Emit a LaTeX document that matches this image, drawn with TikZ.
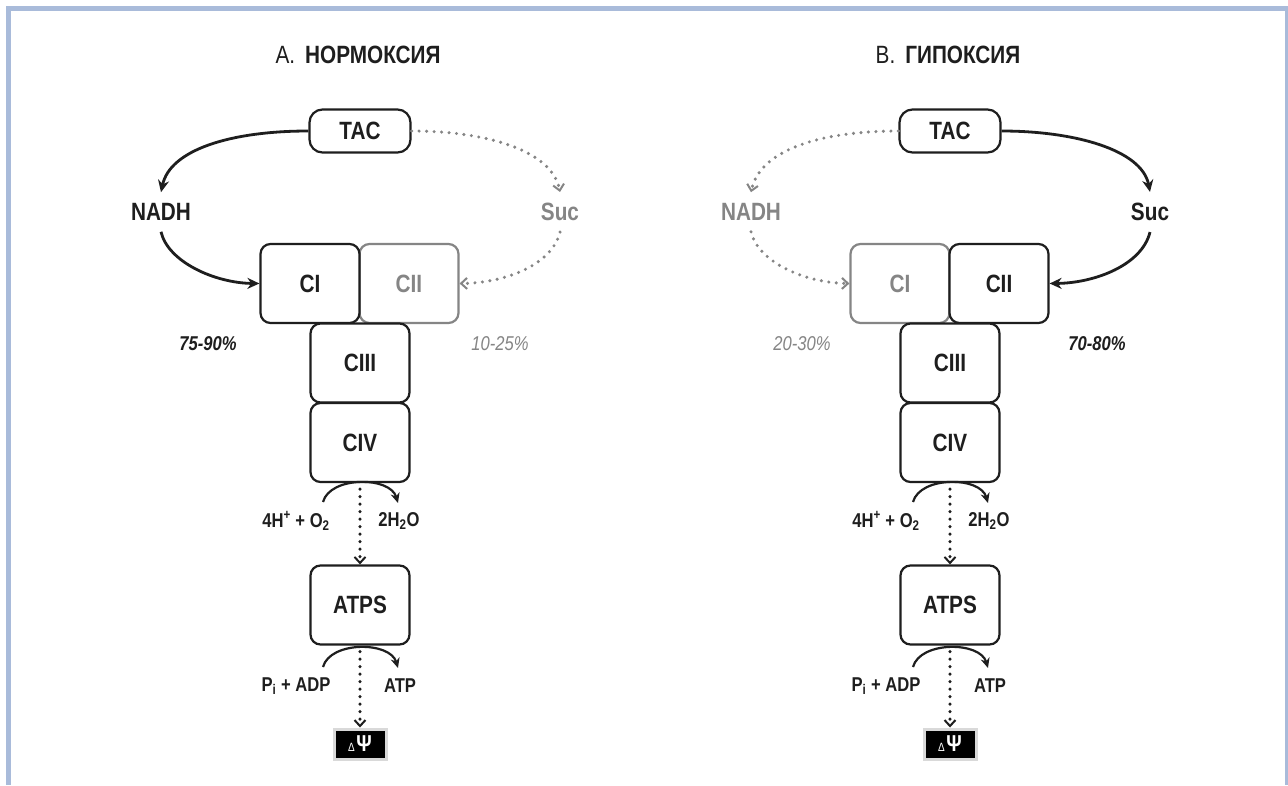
\documentclass[tikz,border=0pt]{standalone}
\usepackage{fontspec}
\setmainfont{Liberation Sans}[FakeStretch=0.83]
\usetikzlibrary{arrows.meta}
\definecolor{frame}{HTML}{A9BBDA}
\definecolor{dk}{HTML}{1E1E1E}
\definecolor{gr}{HTML}{858585}
\tikzset{
  cbox/.style={draw=dk, text=dk, rounded corners=10pt, line width=2.2pt, minimum width=99pt, minimum height=79pt, fill=white, font=\bfseries\fontsize{25}{25}\selectfont},
  grbox/.style={cbox, draw=gr, text=gr},
  tacbox/.style={cbox, minimum width=101pt, minimum height=43pt, rounded corners=13pt},
  lbl/.style={text=dk, inner xsep=2pt, inner ysep=11pt, font=\bfseries\fontsize{25}{25}\selectfont},
  grlbl/.style={lbl, text=gr},
  pct/.style={text=dk, font=\bfseries\itshape\fontsize{20}{20}\selectfont},
  grpct/.style={text=gr, font=\itshape\fontsize{20}{20}\selectfont},
  sm/.style={text=dk, font=\bfseries\fontsize{20}{20}\selectfont},
  ttl/.style={text=dk, font=\fontsize{25}{25}\selectfont},
  solidarr/.style={draw=dk, line width=2.8pt, -{Stealth[length=12pt,width=11pt]}},
  dotarr/.style={draw=gr, line width=3.4pt, line cap=round, dash pattern=on 0pt off 7.5pt, -{Straight Barb[length=6pt,width=11pt,line width=2pt]}},
  vdot/.style={draw=dk, line width=3.4pt, line cap=round, dash pattern=on 0pt off 7.5pt, -{Straight Barb[length=6pt,width=11pt,line width=2pt]}},
  arcarr/.style={draw=dk, line width=2.2pt, -{Stealth[length=10pt,width=9pt]}},
  psibox/.style={fill=black, draw=black!15, line width=3pt, minimum width=52pt, minimum height=30pt, text=white, inner sep=0pt},
}
\begin{document}
\begin{tikzpicture}[x=1pt,y=-1pt]
\useasboundingbox (0,0) rectangle (1288,785);
\fill[white] (0,0) rectangle (1288,785);
% frame
\fill[frame] (6,6) rectangle (1288,11);
\fill[frame] (6,6) rectangle (11,785);
\fill[frame] (1285,6) rectangle (1288,785);

% ===== Panel A =====
\node[ttl] (titleA) at (358,55) {А.\hspace{10pt}\textbf{НОРМОКСИЯ}};
\node[tacbox] (tacA) at (360,131) {TAC};
\node[lbl] (nadhA) at (161,212) {NADH};
\node[grlbl] (sucA) at (560,212) {Suc};
\node[grbox] (cIIA) at (409,283.5) {CII};
\node[cbox] (cIA) at (310,283.5) {CI};
\node[cbox] (cIIIA) at (360,363) {CIII};
\node[cbox] (cIVA) at (360,442.5) {CIV};
\node[cbox] (atpsA) at (360,605) {ATPS};
\node[pct] (pA1) at (208,344) {75-90\%};
\node[grpct] (pA2) at (500,344) {10-25\%};
\draw[solidarr] (tacA.west) .. controls (230,131) and (170,150) .. (nadhA.north);
\draw[solidarr] (nadhA.south) .. controls (168,262) and (215,283) .. (cIA.west);
\draw[dotarr] (tacA.east) .. controls (485,131) and (552,150) .. (sucA.north);
\draw[dotarr] (sucA.south) .. controls (552,265) and (505,283) .. (cIIA.east);
\coordinate (oA1) at (323,502);
\coordinate (oA2) at (398,503);
\draw[arcarr] (oA1) .. controls (330,476) and (390,476) .. (oA2);
\node[sm] (rA1) at (296,521) {4H\textsuperscript{+} + O\textsubscript{2}};
\node[sm] (rA2) at (399,521) {2H\textsubscript{2}O};
\draw[vdot] ([yshift=-6pt]cIVA.south) -- (atpsA.north);
\coordinate (qA1) at (323,667);
\coordinate (qA2) at (398,668);
\draw[arcarr] (qA1) .. controls (330,641) and (390,641) .. (qA2);
\node[sm] (sA1) at (296,686) {P\textsubscript{i} + ADP};
\node[sm] (sA2) at (400,686) {ATP};
\node[psibox] (psiA) at (360,744) {{\fontsize{12}{12}\selectfont Δ}\,{\bfseries\fontsize{23}{23}\selectfont Ψ}};
\draw[vdot] ([yshift=-6pt]atpsA.south) -- (psiA.north);

% ===== Panel B =====
\node[ttl] (titleB) at (948,55) {В.\hspace{10pt}\textbf{ГИПОКСИЯ}};
\node[tacbox] (tacB) at (950,131) {TAC};
\node[grlbl] (nadhB) at (751,212) {NADH};
\node[lbl] (sucB) at (1150,212) {Suc};
\node[grbox] (cIB) at (900,283.5) {CI};
\node[cbox] (cIIB) at (999,283.5) {CII};
\node[cbox] (cIIIB) at (950,363) {CIII};
\node[cbox] (cIVB) at (950,442.5) {CIV};
\node[cbox] (atpsB) at (950,605) {ATPS};
\node[grpct] (pB1) at (802,344) {20-30\%};
\node[pct] (pB2) at (1097,344) {70-80\%};
\draw[dotarr] (tacB.west) .. controls (820,131) and (760,150) .. (nadhB.north);
\draw[dotarr] (nadhB.south) .. controls (758,262) and (805,283) .. (cIB.west);
\draw[solidarr] (tacB.east) .. controls (1075,131) and (1142,150) .. (sucB.north);
\draw[solidarr] (sucB.south) .. controls (1142,265) and (1095,283) .. (cIIB.east);
\coordinate (oB1) at (913,502);
\coordinate (oB2) at (988,503);
\draw[arcarr] (oB1) .. controls (920,476) and (980,476) .. (oB2);
\node[sm] (rB1) at (886,521) {4H\textsuperscript{+} + O\textsubscript{2}};
\node[sm] (rB2) at (989,521) {2H\textsubscript{2}O};
\draw[vdot] ([yshift=-6pt]cIVB.south) -- (atpsB.north);
\coordinate (qB1) at (913,667);
\coordinate (qB2) at (988,668);
\draw[arcarr] (qB1) .. controls (920,641) and (980,641) .. (qB2);
\node[sm] (sB1) at (886,686) {P\textsubscript{i} + ADP};
\node[sm] (sB2) at (990,686) {ATP};
\node[psibox] (psiB) at (950,744) {{\fontsize{12}{12}\selectfont Δ}\,{\bfseries\fontsize{23}{23}\selectfont Ψ}};
\draw[vdot] ([yshift=-6pt]atpsB.south) -- (psiB.north);
\end{tikzpicture}
\end{document}
